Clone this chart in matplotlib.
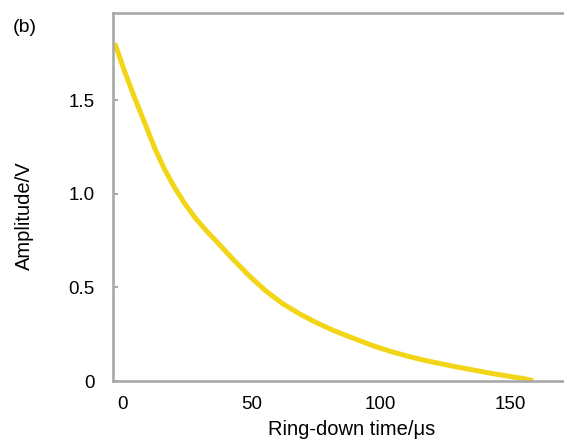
import matplotlib
matplotlib.use("Agg")
import matplotlib.pyplot as plt

plt.rcParams['font.family'] = ['Liberation Sans', 'DejaVu Sans']

# ring-down curve
time_us = [-2.8, 1.0, 4.9, 8.8, 12.6, 16.5, 20.4, 24.2, 28.1, 32.4, 36.6,
           43.0, 49.5, 55.9, 62.3, 68.8, 75.2, 81.7, 88.1, 97.1, 103.6,
           110.0, 116.4, 122.9, 129.3, 135.7, 142.2, 148.7, 155.1, 158.9]
amplitude_v = [1.804, 1.652, 1.511, 1.377, 1.244, 1.128, 1.031, 0.948, 0.874, 0.805, 0.744,
               0.648, 0.557, 0.477, 0.411, 0.357, 0.311, 0.270, 0.235, 0.188, 0.159,
               0.134, 0.112, 0.093, 0.075, 0.059, 0.042, 0.027, 0.013, 0.002]

x_ticks = [0, 50, 100, 150]
y_ticks = [0, 0.5, 1.0, 1.5]
y_tick_labels = ["0", "0.5", "1.0", "1.5"]

W, H = 564, 440
fig = plt.figure(figsize=(W / 100, H / 100), dpi=100)
ax = fig.add_axes([113 / W, (H - 381) / H, 1 - 113 / W, (381 - 13) / H])

ax.plot(time_us, amplitude_v, color='#f2d517', lw=3.6,
        solid_capstyle='butt', solid_joinstyle='round')

ax.set_xlim(-3.5, 170.8)
ax.set_ylim(0, 1.965)

spine_color = '#a8a8a8'
for side in ['left', 'top', 'bottom']:
    ax.spines[side].set_color(spine_color)
    ax.spines[side].set_linewidth(1.9)
ax.spines['right'].set_visible(False)

ax.set_xticks(x_ticks)
ax.set_yticks(y_ticks)
ax.set_yticklabels(y_tick_labels)
ax.tick_params(axis='x', length=0, pad=11, labelsize=13.5)
ax.tick_params(axis='y', direction='in', length=3.5, width=1.5, color=spine_color,
               pad=13, labelsize=13.5)

ax.set_xlabel("Ring-down time/\u03bcs", fontsize=14.5)
ax.xaxis.set_label_coords(0.528, -0.106)
ax.set_ylabel("Amplitude/V", fontsize=14.5)
ax.yaxis.set_label_coords(-0.175, 0.448)

fig.text(25 / W, 1 - 28 / H, "(b)", fontsize=14, ha='center', va='center')

fig.savefig("out.png", dpi=100)
